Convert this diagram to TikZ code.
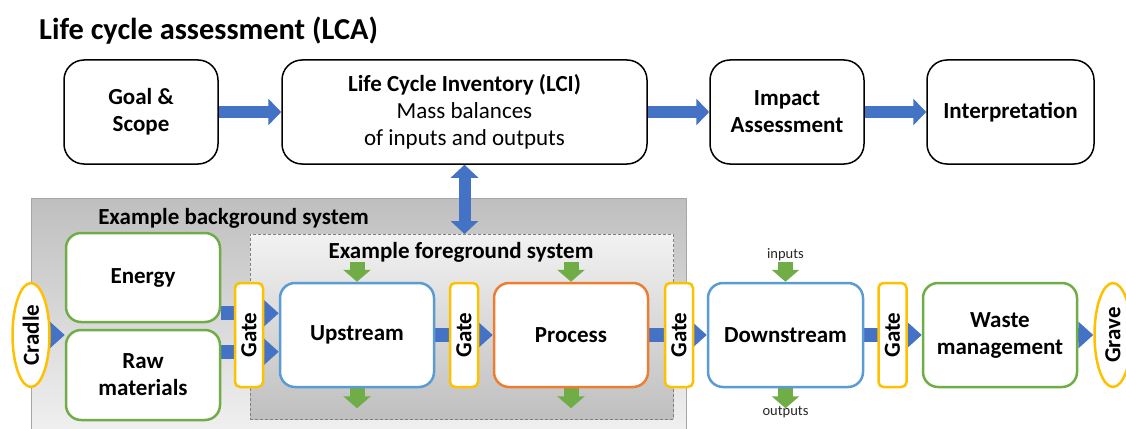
\documentclass[tikz,border=0pt]{standalone}
\usepackage{fontspec}
\setmainfont{Carlito}
\usetikzlibrary{arrows.meta,shapes.geometric}

\definecolor{flowblue}{HTML}{4472C4}
\definecolor{boxgreen}{HTML}{70AD47}
\definecolor{boxorange}{HTML}{ED7D31}
\definecolor{gateyellow}{HTML}{FFC000}
\definecolor{boxblue}{HTML}{5B9BD5}
\definecolor{sysdark}{HTML}{BFBFBF}
\definecolor{syslight}{HTML}{F2F2F2}

\pgfdeclarelayer{sysback}
\pgfdeclarelayer{links}
\pgfsetlayers{sysback,links,main}

\begin{document}
\begin{tikzpicture}[x=1pt,y=-1pt,
  every node/.style={align=center, inner sep=0pt, font=\fontsize{23}{27}\selectfont},
  bold/.style={font=\fontsize{23}{27}\selectfont\bfseries},
  topbox/.style={draw=black, line width=1.5pt, rounded corners=20pt, fill=white,
    minimum height=104pt},
  stagebox/.style={line width=2.5pt, rounded corners=15pt, fill=white, bold},
  gatebox/.style={draw=gateyellow, line width=2.5pt, rounded corners=5pt, fill=white,
    minimum width=28pt, minimum height=104pt, bold},
  endcap/.style={ellipse, draw=gateyellow, line width=2.5pt, fill=white,
    minimum width=37pt, minimum height=104pt, bold},
  flowarrow/.style={draw=flowblue, line width=12pt, -{Triangle[width=26pt,length=13pt]}},
  duplexarrow/.style={draw=flowblue, line width=12pt,
    {Triangle[width=27pt,length=13pt]}-{Triangle[width=27pt,length=13pt]}},
  stagearrow/.style={draw=flowblue, line width=14pt, -{Triangle[width=26pt,length=15pt]}},
  matarrow/.style={draw=boxgreen, line width=15pt, -{Triangle[width=27pt,length=12pt]}},
  small/.style={font=\fontsize{14.5}{16}\selectfont, text=black!85}
]
\useasboundingbox (0,0) rectangle (1126,428);

% title
\node[anchor=west, font=\fontsize{30.4}{36}\selectfont\bfseries] (title) at (39,31)
  {Life cycle assessment (LCA)};

% LCA phases
\node[topbox, bold, minimum width=154pt] (goal) at (141,112) {Goal \&\\Scope};
\node[topbox, minimum width=365pt] (lci) at (464.5,112)
  {{\bfseries Life Cycle Inventory (LCI)}\\Mass balances\\of inputs and outputs};
\node[topbox, bold, minimum width=154pt] (impact) at (787,112) {Impact\\Assessment};
\node[topbox, bold, minimum width=167pt] (interp) at (1010.5,112) {Interpretation};

% system boundaries
\begin{pgfonlayer}{sysback}
\node[anchor=north west, draw=black!35, line width=0.8pt,
  top color=sysdark, bottom color=syslight,
  minimum width=655pt, minimum height=242pt] (bgsys) at (31,198) {};
\node[anchor=north west, draw=black!50, line width=0.8pt, dash pattern=on 3pt off 2pt,
  top color=syslight, bottom color=sysdark,
  minimum width=423pt, minimum height=185pt] (fgsys) at (250,234) {};
\end{pgfonlayer}
\node[bold] (bglabel) at (233.5,218) {Example background system};
\node[bold] (fglabel) at (461,252) {Example foreground system};

% life cycle stages
\node[endcap] (cradle) at (31,335) {\rotatebox{90}{Cradle}};
\node[stagebox, draw=boxgreen, minimum width=154pt, minimum height=89pt] (energy) at (143,277.5) {Energy};
\node[stagebox, draw=boxgreen, minimum width=154pt, minimum height=90pt] (raw) at (143,375) {Raw\\materials};
\node[gatebox] (gate1) at (249,335) {\rotatebox{90}{Gate}};
\node[stagebox, draw=boxblue, minimum width=154pt, minimum height=104pt] (upstream) at (357,335) {Upstream};
\node[gatebox] (gate2) at (464,335) {\rotatebox{90}{Gate}};
\node[stagebox, draw=boxorange, minimum width=154pt, minimum height=104pt] (process) at (571,335) {Process};
\node[gatebox] (gate3) at (679,335) {\rotatebox{90}{Gate}};
\node[stagebox, draw=boxblue, minimum width=155pt, minimum height=104pt] (downstream) at (785.5,335) {Downstream};
\node[gatebox] (gate4) at (892.5,335) {\rotatebox{90}{Gate}};
\node[stagebox, draw=boxgreen, minimum width=154pt, minimum height=104pt] (waste) at (1000,335) {Waste\\management};
\node[endcap] (grave) at (1113,335) {\rotatebox{90}{Grave}};

\node[small] (inlabel) at (785.5,255) {inputs};
\node[small] (outlabel) at (785.5,412) {outputs};

% anchor points for arrows that do not meet a node centre
\coordinate (energyout) at ([yshift=10pt]energy.south east);
\coordinate (rawout) at ([yshift=-23pt]raw.north east);
\coordinate (upin) at ([yshift=20pt]upstream.north);
\coordinate (upout) at ([yshift=-20pt]upstream.south);
\coordinate (procin) at ([yshift=20pt]process.north);
\coordinate (procout) at ([yshift=-20pt]process.south);
\coordinate (downin) at ([yshift=20pt]downstream.north);
\coordinate (downout) at ([yshift=-20pt]downstream.south);

\begin{pgfonlayer}{links}
\draw[flowarrow] (goal) -- (lci);
\draw[flowarrow] (lci) -- (impact);
\draw[flowarrow] (impact) -- (interp);
\draw[duplexarrow] (lci.south) -- (lci.south |- fgsys.north);

\draw[stagearrow] (cradle) -- (cradle -| energy.west);
\draw[stagearrow] (energyout) -- (energyout -| upstream.west);
\draw[stagearrow] (rawout) -- (rawout -| upstream.west);
\draw[stagearrow] (upstream) -- (process);
\draw[stagearrow] (process) -- (downstream);
\draw[stagearrow] (downstream) -- (waste);
\draw[stagearrow] (waste) -- (grave);

\draw[matarrow] (upin) -- (upstream.north);
\draw[matarrow] (upstream.south) -- (upout);
\draw[matarrow] (procin) -- (process.north);
\draw[matarrow] (process.south) -- (procout);
\draw[matarrow] (downin) -- (downstream.north);
\draw[matarrow] (downstream.south) -- (downout);
\end{pgfonlayer}
\end{tikzpicture}
\end{document}
